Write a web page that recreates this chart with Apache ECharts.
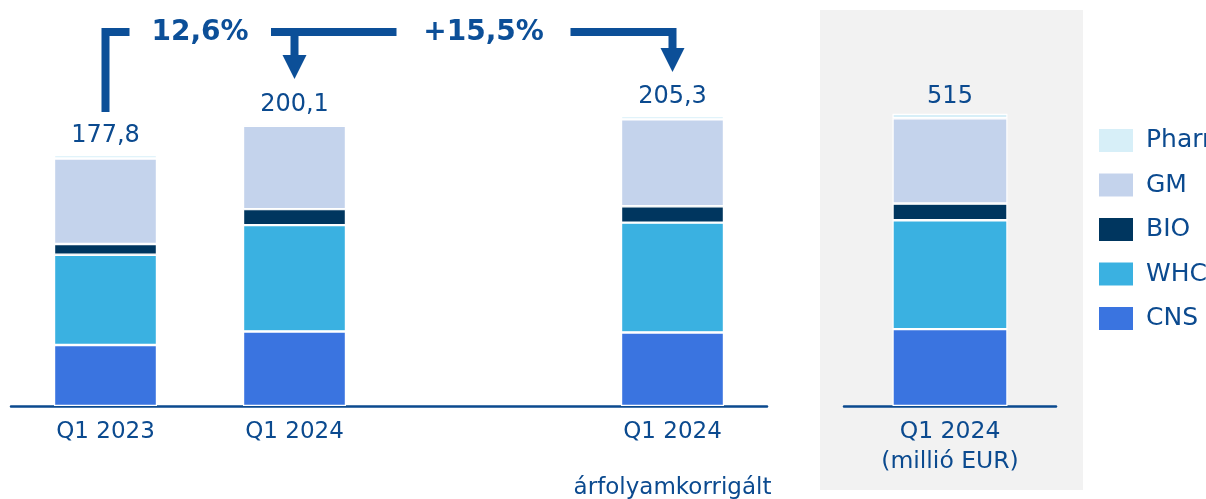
<!DOCTYPE html>
<html>
<head>
<meta charset="utf-8">
<script src="https://cdn.jsdelivr.net/npm/echarts@6/dist/echarts.min.js"></script>
<style>
  html, body { margin: 0; padding: 0; background: #fff; }
  #chart { width: 1206px; height: 499px; }
</style>
</head>
<body>
<div id="chart"></div>
<script>
// kategóriák (a harmadik üres hely a két csoport között)
const categories = ['Q1 2023', 'Q1 2024', '', 'Q1 2024'];
const totals = [177.8, 200.1, null, 205.3];

const cns = [43.2, 52.8, null, 52.1];
const whc = [63.9, 75.3, null, 77.8];
const bio = [7.6, 11.3, null, 11.6];
const gm = [60.6, 59.0, null, 61.5];
const pharma = [2.5, 1.7, null, 2.3];

// jobb oldali panel, millió EUR
const eurCategories = ['Q1 2024\n(millió EUR)'];
const eurTotals = [515];
const eurCns = [135.5];
const eurWhc = [191.7];
const eurBio = [29.5];
const eurGm = [150.4];
const eurPharma = [7.9];

const changeLabels = ['12,6%', '+15,5%'];

const names = ['CNS', 'WHC', 'BIO', 'GM', 'Pharma'];
const colors = {
    CNS: '#3a74e0',
    WHC: '#3ab1e1',
    BIO: '#00365f',
    GM: '#c4d3ec',
    Pharma: '#d7eff8'
};
const textColor = '#0b4a8f';
const arrowColor = '#0c4f98';
const font = 'DejaVu Sans, Verdana, sans-serif';

const leftData = [cns, whc, bio, gm, pharma];
const rightData = [eurCns, eurWhc, eurBio, eurGm, eurPharma];

const fmt = v => (v === null ? '' : String(v).replace('.', ','));

let series = [];
names.forEach((name, i) => {
    series.push({
        name: name,
        type: 'bar',
        stack: 'left',
        xAxisIndex: 0,
        yAxisIndex: 0,
        barWidth: 103,
        data: leftData[i],
        itemStyle: { color: colors[name], borderColor: '#fff', borderWidth: 1.2 },
        label: name === 'Pharma' ? {
            show: true,
            position: 'top',
            distance: 7,
            fontFamily: font,
            fontSize: 24,
            color: textColor,
            formatter: p => fmt(totals[p.dataIndex])
        } : { show: false }
    });
    series.push({
        name: name,
        type: 'bar',
        stack: 'right',
        xAxisIndex: 1,
        yAxisIndex: 1,
        barWidth: 115,
        data: rightData[i],
        itemStyle: { color: colors[name], borderColor: '#fff', borderWidth: 1.2 },
        label: name === 'Pharma' ? {
            show: true,
            position: 'top',
            distance: 5,
            fontFamily: font,
            fontSize: 24,
            color: textColor,
            formatter: p => fmt(eurTotals[p.dataIndex])
        } : { show: false }
    });
});

const chart = echarts.init(document.getElementById('chart'));

const option = {
    animation: false,
    backgroundColor: '#fff',
    legend: {
        data: ['Pharma', 'GM', 'BIO', 'WHC', 'CNS'],
        orient: 'vertical',
        left: 1097,
        top: 127,
        padding: 0,
        itemWidth: 36,
        itemHeight: 25,
        itemGap: 17.5,
        icon: 'rect',
        selectedMode: false,
        textStyle: {
            fontFamily: font,
            fontSize: 25,
            color: textColor,
            padding: [0, 0, 0, 7]
        }
    },
    grid: [
        { left: 11, width: 756, top: 53, height: 353, outerBoundsMode: 'none' },
        { left: 844, width: 212, top: 53, height: 353, outerBoundsMode: 'none' }
    ],
    xAxis: [
        {
            type: 'category',
            gridIndex: 0,
            data: categories,
            axisTick: { show: false },
            axisLine: { lineStyle: { color: textColor, width: 2.5 } },
            axisLabel: {
                interval: 0,
                margin: 12,
                fontFamily: font,
                fontSize: 23,
                color: textColor,
                lineHeight: 28,
                formatter: (v, idx) => idx === 3 ? v + '\n\nárfolyamkorrigált' : v
            }
        },
        {
            type: 'category',
            gridIndex: 1,
            data: eurCategories,
            axisTick: { show: false },
            axisLine: { lineStyle: { color: textColor, width: 2.5 } },
            axisLabel: {
                interval: 0,
                margin: 11,
                fontFamily: font,
                fontSize: 23.5,
                color: textColor,
                lineHeight: 30
            }
        }
    ],
    yAxis: [
        { type: 'value', gridIndex: 0, min: 0, max: 250, show: false },
        { type: 'value', gridIndex: 1, min: 0, max: 622, show: false }
    ],
    series: series
};

chart.setOption(option);

// nyilak a változásokhoz: a pozíciók a tengelyekből jönnek
const px = idx => chart.convertToPixel({ xAxisIndex: 0, yAxisIndex: 0 }, [idx, 0])[0];
const x1 = px(0), x2 = px(1), xMid = px(2), x3 = px(3);
const yLine = 32;
const lineStyle = { stroke: arrowColor, lineWidth: 8, fill: null, lineJoin: 'miter', lineCap: 'butt' };
const t1 = (x1 + x2) / 2;

chart.setOption({
    graphic: [
        {
            type: 'rect', z: -10, silent: true,
            shape: { x: 820, y: 10, width: 263, height: 480 },
            style: { fill: '#f2f2f2' }
        },
        { type: 'polyline', shape: { points: [[x1, 112], [x1, yLine], [x1 + 24, yLine]] }, style: lineStyle },
        { type: 'polyline', shape: { points: [[t1 + 71, yLine], [xMid - 87, yLine]] }, style: lineStyle },
        { type: 'polyline', shape: { points: [[x2, yLine], [x2, 57]] }, style: lineStyle },
        { type: 'polygon', shape: { points: [[x2 - 12, 55], [x2 + 12, 55], [x2, 79]] }, style: { fill: arrowColor } },
        { type: 'polyline', shape: { points: [[xMid + 87, yLine], [x3, yLine], [x3, 50]] }, style: lineStyle },
        { type: 'polygon', shape: { points: [[x3 - 12, 48], [x3 + 12, 48], [x3, 72]] }, style: { fill: arrowColor } },
        {
            type: 'text', x: t1, y: yLine + 1,
            style: {
                text: changeLabels[0], fontFamily: font, fontSize: 28, fontWeight: 'bold',
                fill: arrowColor, align: 'center', verticalAlign: 'middle'
            }
        },
        {
            type: 'text', x: xMid, y: yLine + 1,
            style: {
                text: changeLabels[1], fontFamily: font, fontSize: 28, fontWeight: 'bold',
                fill: arrowColor, align: 'center', verticalAlign: 'middle'
            }
        }
    ]
});
</script>
</body>
</html>
